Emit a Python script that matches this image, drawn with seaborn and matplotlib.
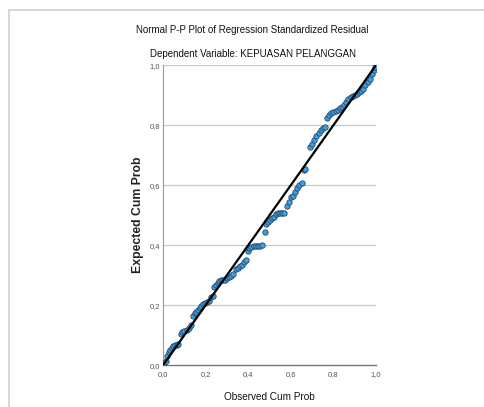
import matplotlib
matplotlib.use("Agg")
import matplotlib.pyplot as plt
from matplotlib.lines import Line2D
from matplotlib.ticker import FuncFormatter
import seaborn as sns
import pandas as pd

# observed vs expected cumulative probabilities
observed = [0.005, 0.012, 0.02, 0.027, 0.033, 0.04, 0.048, 0.056, 0.064, 0.072,
            0.082, 0.09, 0.1, 0.11, 0.12, 0.13, 0.14, 0.148, 0.156, 0.164,
            0.172, 0.18, 0.188, 0.196, 0.205, 0.215, 0.224, 0.232, 0.24, 0.248,
            0.256, 0.264, 0.272, 0.28, 0.29, 0.3, 0.31, 0.32, 0.33, 0.34,
            0.35, 0.36, 0.37, 0.38, 0.39, 0.398, 0.405, 0.415, 0.425, 0.435,
            0.445, 0.455, 0.465, 0.478, 0.484, 0.492, 0.5, 0.51, 0.52, 0.53,
            0.54, 0.55, 0.56, 0.57, 0.58, 0.59, 0.6, 0.61, 0.62, 0.63,
            0.64, 0.65, 0.66, 0.668, 0.69, 0.7, 0.71, 0.72, 0.73, 0.74,
            0.75, 0.76, 0.77, 0.78, 0.79, 0.8, 0.81, 0.82, 0.83, 0.84,
            0.85, 0.86, 0.87, 0.88, 0.89, 0.9, 0.91, 0.92, 0.93, 0.94,
            0.95, 0.96, 0.97, 0.98, 0.99, 0.997]
expected = [0.008, 0.015, 0.03, 0.045, 0.05, 0.057, 0.062, 0.066, 0.068, 0.07,
            0.105, 0.11, 0.113, 0.118, 0.125, 0.135, 0.163, 0.172, 0.178, 0.185,
            0.19, 0.197, 0.205, 0.208, 0.21, 0.212, 0.228, 0.23, 0.26, 0.268,
            0.275, 0.28, 0.282, 0.283, 0.285, 0.29, 0.295, 0.298, 0.305, 0.32,
            0.325, 0.33, 0.335, 0.343, 0.35, 0.38, 0.39, 0.395, 0.396, 0.396,
            0.396, 0.397, 0.4, 0.445, 0.47, 0.478, 0.485, 0.49, 0.495, 0.505,
            0.508, 0.508, 0.508, 0.508, 0.53, 0.545, 0.56, 0.565, 0.578, 0.59,
            0.6, 0.608, 0.65, 0.655, 0.728, 0.738, 0.752, 0.765, 0.775, 0.785,
            0.79, 0.795, 0.825, 0.835, 0.84, 0.845, 0.848, 0.852, 0.857, 0.862,
            0.868, 0.878, 0.888, 0.895, 0.898, 0.9, 0.905, 0.91, 0.915, 0.92,
            0.935, 0.945, 0.955, 0.97, 0.983, 0.995]
ref_line = [0.0, 1.0]
ticks = [0.0, 0.2, 0.4, 0.6, 0.8, 1.0]

df = pd.DataFrame({"observed": observed, "expected": expected})

sns.set_theme(style="white")
plt.rcParams["font.family"] = ["Liberation Sans", "DejaVu Sans"]

fig = plt.figure(figsize=(4.84, 4.07), dpi=100)
ax = fig.add_axes([0.337, 0.103, 0.44, 0.737])

for t in ticks[1:]:
    ax.axhline(t, color="#c8c8c8", lw=0.9, zorder=0)

sns.scatterplot(data=df, x="observed", y="expected", ax=ax, s=15,
                color="#3e9fdc", edgecolor="#24476e", linewidth=0.6, zorder=3)
sns.lineplot(x=ref_line, y=ref_line, ax=ax, color="black", lw=1.6, zorder=4)

ax.set_xlim(0, 1)
ax.set_ylim(0, 1)
ax.set_xticks(ticks)
ax.set_yticks(ticks)
fmt = FuncFormatter(lambda v, p: f"{v:.1f}".replace(".", ","))
ax.xaxis.set_major_formatter(fmt)
ax.yaxis.set_major_formatter(fmt)
ax.tick_params(axis="both", labelsize=5.5, labelcolor="#555555", length=2,
               color="#888888", width=0.6, pad=2)
ax.tick_params(axis="y", length=0)
for side in ["top", "right"]:
    ax.spines[side].set_visible(False)
ax.spines["left"].set_color("#9a9a9a")
ax.spines["bottom"].set_color("#777777")
ax.spines["left"].set_linewidth(0.8)
ax.spines["bottom"].set_linewidth(1.0)

ax.set_xlabel("Observed Cum Prob", fontsize=7.2, labelpad=10, color="#111111")
ax.set_ylabel("Expected Cum Prob", fontsize=8.8, fontweight="bold",
              labelpad=4, color="#222222")

fig.text(0.522, 0.926, "Normal P-P Plot of Regression Standardized Residual",
         ha="center", va="center", fontsize=7, color="#111111")
fig.text(0.522, 0.867, "Dependent Variable: KEPUASAN PELANGGAN",
         ha="center", va="center", fontsize=7, color="#111111")

# window frame
fig.add_artist(Line2D([9 / 484, 1], [1 - 10 / 407, 1 - 10 / 407],
                      transform=fig.transFigure, color="#cfcfcf", lw=1.2))
fig.add_artist(Line2D([9 / 484, 9 / 484], [0, 1 - 10 / 407],
                      transform=fig.transFigure, color="#cfcfcf", lw=1.2))

fig.savefig("out.png", dpi=100)
